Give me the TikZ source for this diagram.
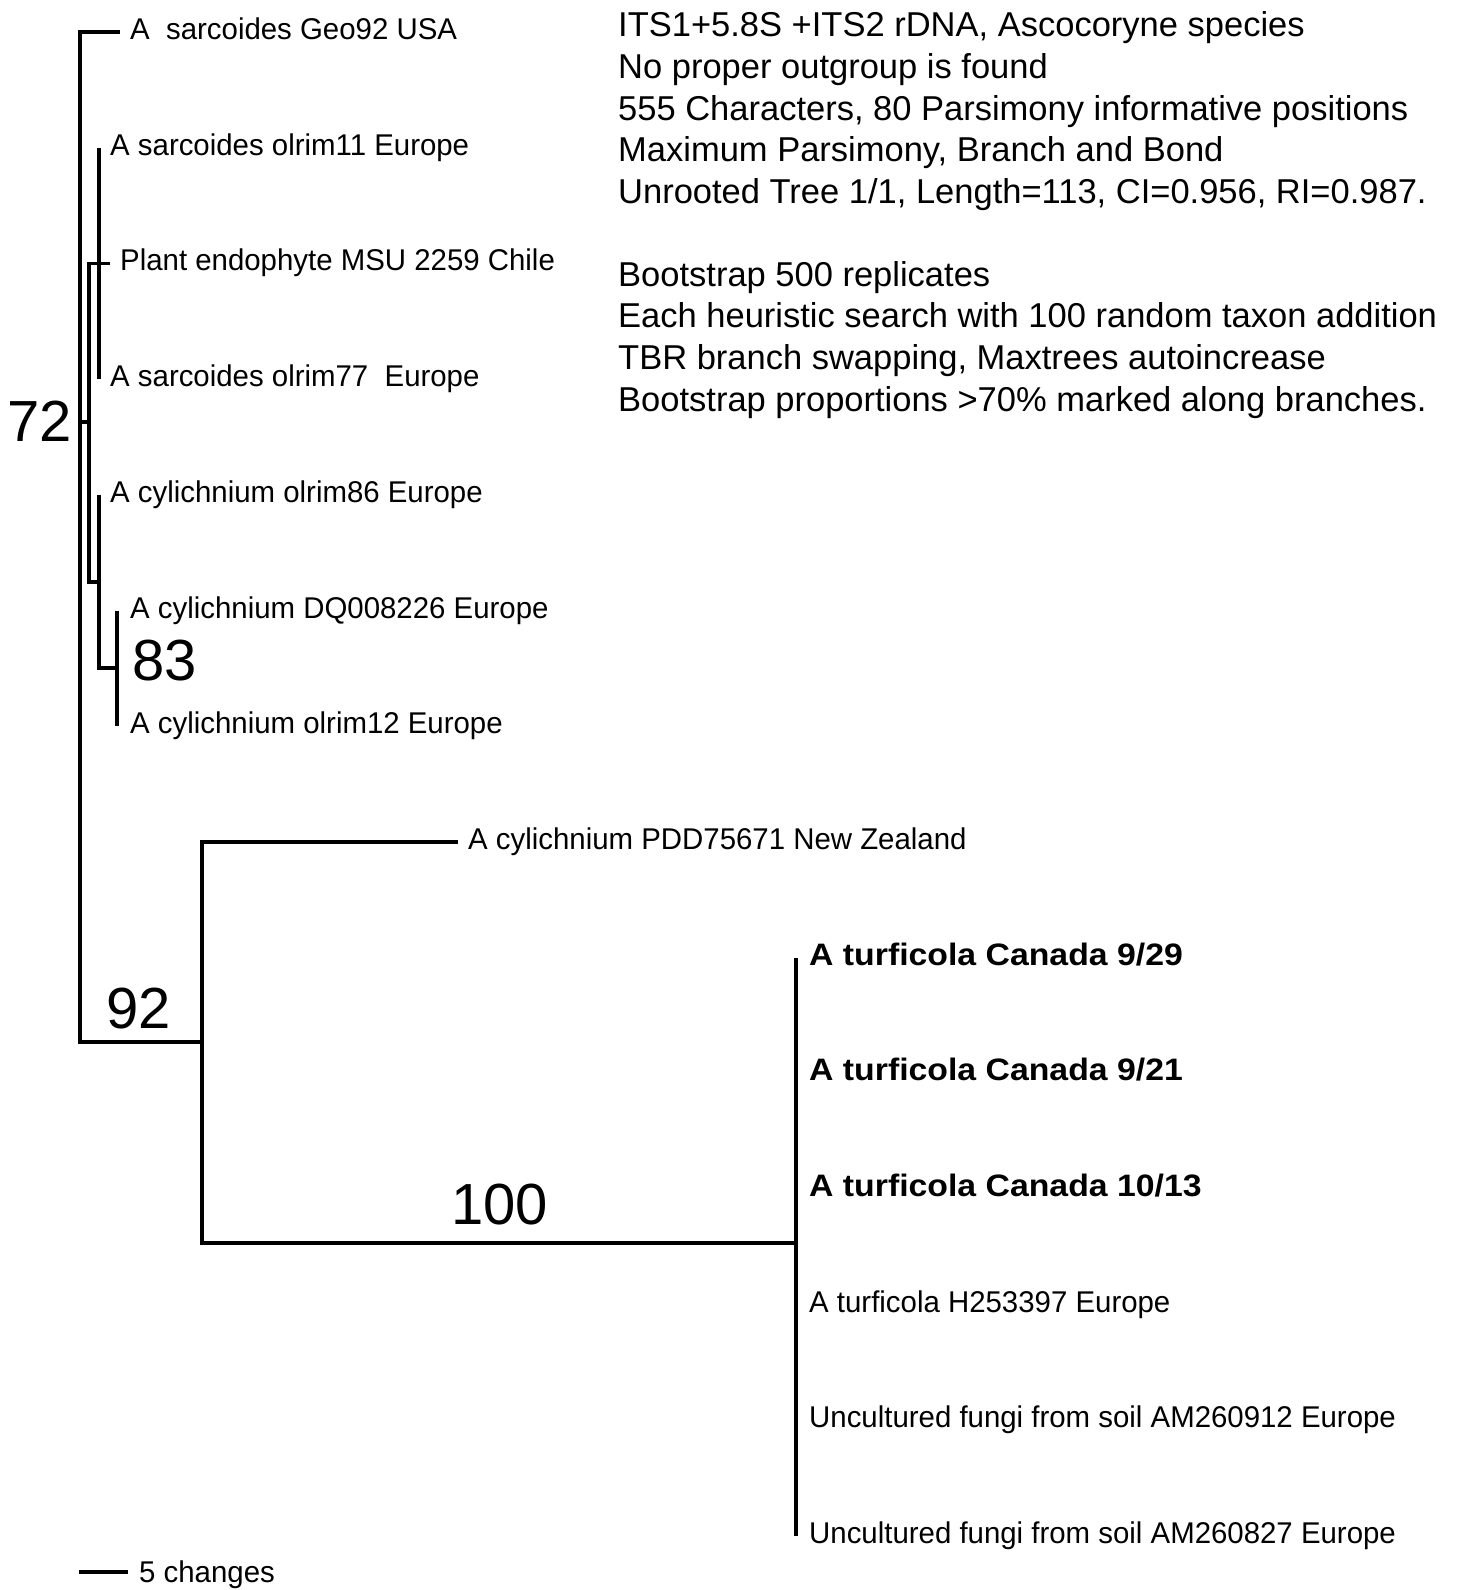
\documentclass[tikz,border=0pt]{standalone}
\usepackage{fontspec}
\setmainfont{Liberation Sans}
\newfontfamily\labfont[FakeStretch=0.98]{Liberation Sans}
\newfontfamily\bldfont[FakeStretch=1.09]{Liberation Sans}
\begin{document}
\begin{tikzpicture}[x=1pt,y=-1pt,
  branch/.style={line width=3.5pt,line join=miter,line cap=butt},
  leaf/.style={anchor=base west,inner sep=0pt,font=\labfont\fontsize{30}{30}\selectfont},
  bleaf/.style={anchor=base west,inner sep=0pt,font=\bldfont\bfseries\fontsize{31}{31}\selectfont},
  boot/.style={inner sep=0pt,font=\fontsize{58}{58}\selectfont},
  note/.style={anchor=base west,inner sep=0pt,font=\fontsize{34.5}{34.5}\selectfont}]
\useasboundingbox[fill=white] (0,0) rectangle (1458,1590);

% internal points
\coordinate (rt) at (80,32);
\coordinate (rb) at (80,1042);
\coordinate (r72) at (80,422);
\coordinate (n72) at (89,422);
\coordinate (a72t) at (89,263.4);
\coordinate (a72b) at (89,582);
\coordinate (nB) at (99,582);
\coordinate (bB) at (99,668);
\coordinate (n83) at (117,668);
\coordinate (n92) at (202,1042);
\coordinate (n92t) at (202,841.9);
\coordinate (n92b) at (202,1243);
\coordinate (n100) at (796,1243);
% tips
\coordinate (tGeo) at (120,32);
\coordinate (tO11) at (99,147.7);
\coordinate (tPlant) at (110,263.4);
\coordinate (tO77) at (99,379.1);
\coordinate (tO86) at (99,494.8);
\coordinate (tDQ) at (117,610.5);
\coordinate (tO12) at (117,726.2);
\coordinate (tPDD) at (458,841.9);
\coordinate (tT1) at (796,957.6);
\coordinate (tT6) at (796,1536.1);

% branches
\draw[branch] (tGeo) -- (rt) -- (rb) -- (n92);
\draw[branch] (r72) -- (n72);
\draw[branch] (tPlant) -- (a72t) -- (a72b) -- (nB);
\draw[branch] (tO11) -- (tO77);
\draw[branch] (tO86) -- (bB) -- (n83);
\draw[branch] (tDQ) -- (tO12);
\draw[branch] (tPDD) -- (n92t) -- (n92b) -- (n100);
\draw[branch] (tT1) -- (tT6);

% leaf labels
\node[leaf] (lGeo) at (130,39.5) {A~\ sarcoides Geo92 USA};
\node[leaf] (lO11) at (110,155.2) {A sarcoides olrim11 Europe};
\node[leaf] (lPlant) at (120,270.9) {Plant endophyte MSU 2259 Chile};
\node[leaf] (lO77) at (110,386.6) {A sarcoides olrim77~\ Europe};
\node[leaf] (lO86) at (110,502.3) {A cylichnium olrim86 Europe};
\node[leaf] (lDQ) at (130,618) {A cylichnium DQ008226 Europe};
\node[leaf] (lO12) at (130,733.7) {A cylichnium olrim12 Europe};
\node[leaf] (lPDD) at (468,849.4) {A cylichnium PDD75671 New Zealand};
\node[bleaf] (lT1) at (809,965) {A turficola Canada 9/29};
\node[bleaf] (lT2) at (809,1080.7) {A turficola Canada 9/21};
\node[bleaf] (lT3) at (809,1196.4) {A turficola Canada 10/13};
\node[leaf] (lT4) at (809,1312.2) {A turficola H253397 Europe};
\node[leaf] (lT5) at (809,1427.9) {Uncultured fungi from soil AM260912 Europe};
\node[leaf] (lT6) at (809,1543.6) {Uncultured fungi from soil AM260827 Europe};

% bootstrap values
\node[boot,anchor=east] (b72) at (72,421) {72};
\node[boot,anchor=west] (b83) at (132,661) {83};
\node[boot,anchor=west] (b92) at (106,1009) {92};
\node[boot,anchor=west] (b100) at (451,1205) {100};

% scale bar
\coordinate (s1) at (79,1572);
\coordinate (s2) at (128,1572);
\draw[branch] (s1) -- (s2);
\node[leaf] (sbar) at (139,1582) {5 changes};

% notes
\node[note] (m1) at (618,36) {ITS1+5.8S +ITS2 rDNA, Ascocoryne species};
\node[note] (m2) at (618,78) {No proper outgroup is found};
\node[note] (m3) at (618,120) {555 Characters, 80 Parsimony informative positions};
\node[note] (m4) at (618,161) {Maximum Parsimony, Branch and Bond};
\node[note] (m5) at (618,203) {Unrooted Tree 1/1, Length=113, CI=0.956, RI=0.987.};
\node[note] (m6) at (618,286) {Bootstrap 500 replicates};
\node[note] (m7) at (618,327) {Each heuristic search with 100 random taxon addition};
\node[note] (m8) at (618,369) {TBR branch swapping, Maxtrees autoincrease};
\node[note] (m9) at (618,411) {Bootstrap proportions >70\% marked along branches.};
\end{tikzpicture}
\end{document}
